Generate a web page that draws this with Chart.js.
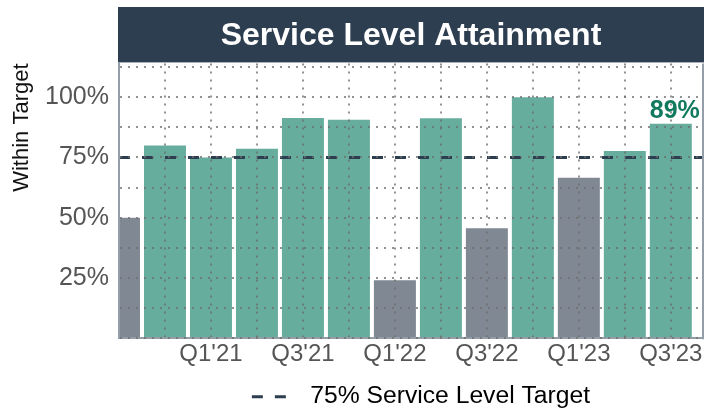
<!DOCTYPE html>
<html>
<head>
<meta charset="utf-8">
<script src="https://cdn.jsdelivr.net/npm/chart.js@4.4.0/dist/chart.umd.min.js"></script>
<style>
    html, body { margin: 0; padding: 0; background: #fff; }
</style>
</head>
<body>
<canvas id="myChart" width="718" height="410"></canvas>
<script>
// dane z wykresu
const quarters = ["Q3'20", "Q4'20", "Q1'21", "Q2'21", "Q3'21", "Q4'21", "Q1'22", "Q2'22", "Q3'22", "Q4'22", "Q1'23", "Q2'23", "Q3'23"];
const attainment = [50, 80, 75, 78.6, 91.4, 90.6, 24.1, 91.3, 45.6, 100, 66.6, 77.7, 89];
const xTickLabels = ["Q1'21", "Q3'21", "Q1'22", "Q3'22", "Q1'23", "Q3'23"];
const yTickLabels = [25, 50, 75, 100];
const yGridSteps = [0, 12.5, 25, 37.5, 50, 62.5, 75, 87.5, 100, 112.5];
const target = 75;
const targetLabel = '75% Service Level Target';
const chartTitle = 'Service Level Attainment';

// zakres osi
const xMin = 0;
const xMax = 12.7;
const yMax = 114;

const navy = '#2c3e50';
const green = '#66ad9d';
const grey = '#7f8893';
const axisGrey = '#939ea8';
const dotGrey = 'rgba(110, 110, 110, 0.75)';
const fontFamily = '"Liberation Sans", Arial, sans-serif';

// tlo tytulu, ramka z prawej, przesuniecie legendy
const bannerPlugin = {
    id: 'banner',
    afterLayout(chart) {
        chart.legend.left += 20;
    },
    beforeDraw(chart) {
        const ctx = chart.ctx;
        const a = chart.chartArea;
        const t = chart.titleBlock;
        ctx.save();
        ctx.fillStyle = navy;
        ctx.fillRect(a.left - 1, t.top, a.right - a.left + 2, t.bottom - t.top - 1);
        ctx.restore();
    },
    afterDraw(chart) {
        const ctx = chart.ctx;
        const a = chart.chartArea;
        ctx.save();
        ctx.strokeStyle = axisGrey;
        ctx.lineWidth = 2;
        ctx.beginPath();
        ctx.moveTo(a.right, a.top);
        ctx.lineTo(a.right, a.bottom + 1);
        ctx.stroke();
        ctx.restore();
    }
};

// etykieta nad ostatnim slupkiem
const lastLabelPlugin = {
    id: 'lastLabel',
    afterDraw(chart) {
        const meta = chart.getDatasetMeta(0);
        const i = attainment.length - 1;
        const bar = meta.data[i];
        const ctx = chart.ctx;
        ctx.save();
        ctx.fillStyle = '#117a5e';
        ctx.font = 'bold 25px ' + fontFamily;
        ctx.textAlign = 'center';
        ctx.textBaseline = 'alphabetic';
        ctx.fillText(attainment[i] + '%', bar.x + 4, bar.y - 6);
        ctx.restore();
    }
};

const data = {
    datasets: [{
        type: 'bar',
        label: 'Attainment',
        data: attainment.map((v, i) => ({ x: i, y: v })),
        backgroundColor: c => (c.raw && c.raw.y >= target) ? green : grey,
        borderWidth: 0,
        categoryPercentage: 1,
        barPercentage: 0.913,
        order: 2
    }, {
        type: 'line',
        label: targetLabel,
        data: [{ x: xMin, y: target }, { x: xMax, y: target }],
        borderColor: navy,
        borderWidth: 3,
        borderDash: [11, 12],
        pointRadius: 0,
        fill: false,
        order: 1
    }]
};

const config = {
    type: 'bar',
    data: data,
    options: {
        responsive: false,
        animation: false,
        layout: {
            padding: { top: 7, right: 15, bottom: -9, left: 0 }
        },
        plugins: {
            title: {
                display: true,
                text: chartTitle,
                fullSize: false,
                color: '#ffffff',
                font: { family: fontFamily, size: 32, weight: 'bold', lineHeight: 1.2 },
                padding: { top: 10, bottom: 8 }
            },
            legend: {
                position: 'bottom',
                fullSize: false,
                labels: {
                    color: '#1a1a1a',
                    font: { family: fontFamily, size: 24.7 },
                    usePointStyle: true,
                    pointStyleWidth: 46,
                    padding: 2,
                    generateLabels: () => [{
                        text: targetLabel,
                        fillStyle: navy,
                        strokeStyle: navy,
                        lineWidth: 3,
                        lineDash: [11, 12],
                        pointStyle: 'line',
                        hidden: false,
                        datasetIndex: 1
                    }]
                }
            },
            tooltip: { enabled: false }
        },
        scales: {
            x: {
                type: 'linear',
                min: xMin,
                max: xMax,
                offset: false,
                afterFit: s => { s.height = 44; },
                afterBuildTicks: s => { s.ticks = quarters.map((q, i) => ({ value: i })); },
                grid: {
                    offset: false,
                    drawTicks: false,
                    color: dotGrey,
                    lineWidth: 2,
                    z: 1
                },
                border: { display: true, color: axisGrey, width: 2, dash: [2, 6], z: 1 },
                ticks: {
                    autoSkip: false,
                    maxRotation: 0,
                    minRotation: 0,
                    padding: 2,
                    color: '#555555',
                    font: { family: fontFamily, size: 24 },
                    callback: v => xTickLabels.includes(quarters[v]) ? quarters[v] : ''
                }
            },
            y: {
                min: 0,
                max: yMax,
                afterFit: s => { s.width = 119; },
                afterBuildTicks: s => { s.ticks = yGridSteps.map(v => ({ value: v })); },
                grid: {
                    drawTicks: false,
                    color: dotGrey,
                    lineWidth: 2,
                    z: 1
                },
                border: { display: true, color: axisGrey, width: 2, dash: [2, 6], z: 1 },
                ticks: {
                    autoSkip: false,
                    padding: 10,
                    color: '#555555',
                    font: { family: fontFamily, size: 25 },
                    callback: v => yTickLabels.includes(v) ? v + '%' : ''
                },
                title: {
                    display: true,
                    text: 'Within Target',
                    align: 'end',
                    color: '#111111',
                    font: { family: fontFamily, size: 22 },
                    padding: { top: 9, bottom: 0 }
                }
            }
        }
    },
    plugins: [bannerPlugin, lastLabelPlugin]
};

const myChart = new Chart(document.getElementById('myChart'), config);
</script>
</body>
</html>
